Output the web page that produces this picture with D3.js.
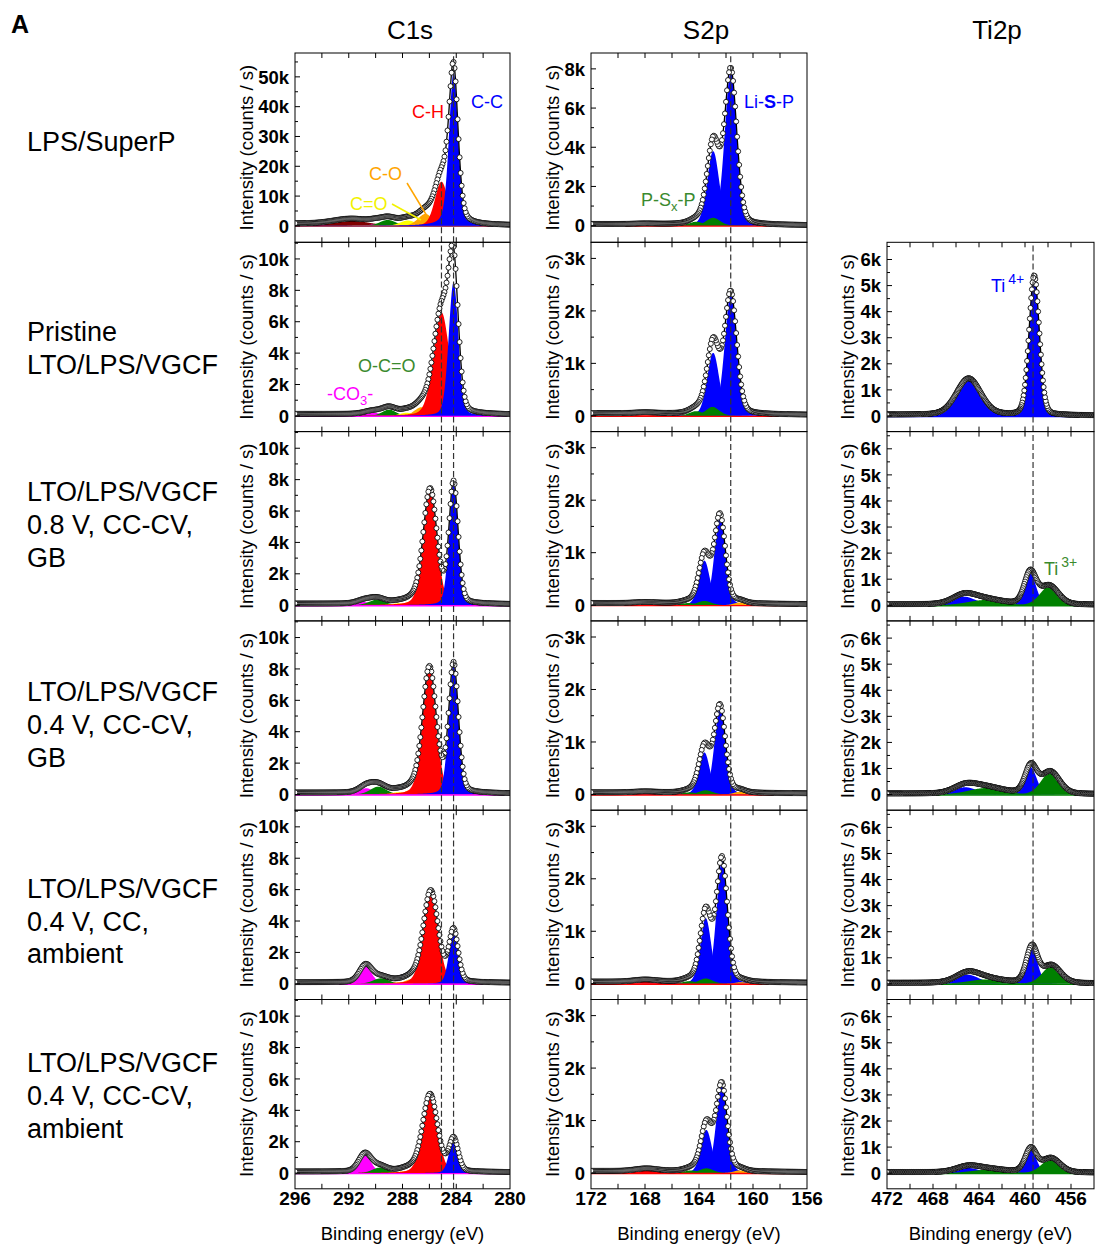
<!DOCTYPE html>
<html><head><meta charset="utf-8">
<script src="https://cdn.jsdelivr.net/npm/d3@7"></script>
<style>
body{margin:0;background:#fff}
svg{display:block}
text{font-family:"Liberation Sans",Arial,Helvetica,sans-serif}
</style>
</head><body>
<svg id="chart" width="1095" height="1245"></svg>
<script>
// ================= DATA =================
const columnTitles = ["C1s", "S2p", "Ti2p"];
const sampleLabels = [
  ["LPS/SuperP"],
  ["Pristine", "LTO/LPS/VGCF"],
  ["LTO/LPS/VGCF", "0.8 V, CC-CV,", "GB"],
  ["LTO/LPS/VGCF", "0.4 V, CC-CV,", "GB"],
  ["LTO/LPS/VGCF", "0.4 V, CC,", "ambient"],
  ["LTO/LPS/VGCF", "0.4 V, CC-CV,", "ambient"]
];
// binding energy axes (eV), high -> low
const c1sRange = [296, 280];
const s2pRange = [172, 156];
const ti2pRange = [472, 454];
const c1sTicks = [296, 292, 288, 284, 280];
const s2pTicks = [172, 168, 164, 160, 156];
const ti2pTicks = [472, 468, 464, 460, 456];
// y ticks (k counts / s)
const c1sYTicksTop = [0, 10, 20, 30, 40, 50];
const c1sYTicks = [0, 2, 4, 6, 8, 10];
const s2pYTicksTop = [0, 2, 4, 6, 8];
const s2pYTicks = [0, 1, 2, 3];
const ti2pYTicks = [0, 1, 2, 3, 4, 5, 6];

// fitted components per row: [species, centre eV, height (k counts/s), FWHM eV, Lorentz fraction]
const c1sPeaks = [
  [["pi", 291.8, 1.7, 3.2], ["CO3", 290.1, 0.5, 1.0], ["O-C=O", 289.1, 2.0, 1.4], ["C=O", 287.6, 1.8, 1.4], ["C-O", 286.3, 4.0, 1.3], ["C-H", 285.1, 14.8, 1.15], ["C-C", 284.2, 51.5, 0.8, 0.35]],
  [["CO3", 290.2, 0.2, 1.5], ["O-C=O", 289.0, 0.4, 1.2], ["C=O", 287.7, 0.2, 1.2], ["C-O", 286.6, 0.55, 1.2], ["C-H", 285.1, 6.6, 1.4], ["C-C", 284.2, 8.5, 0.85]],
  [["CO3", 290.9, 0.2, 1.3], ["O-C=O", 289.9, 0.35, 1.4], ["C=O", 288.3, 0.12, 1.2], ["C-O", 287.3, 0.25, 1.2], ["C-H", 285.95, 7.3, 1.2], ["C-C", 284.2, 7.7, 0.8]],
  [["CO3", 290.7, 0.4, 1.3], ["O-C=O", 289.8, 0.5, 1.4], ["C=O", 288.3, 0.15, 1.2], ["C-O", 287.3, 0.3, 1.2], ["C-H", 286.0, 8.0, 1.2], ["C-C", 284.2, 8.2, 0.85]],
  [["CO3", 290.75, 1.1, 1.1], ["O-C=O", 289.6, 0.35, 1.4], ["C=O", 288.2, 0.1, 1.2], ["C-O", 287.3, 0.3, 1.2], ["C-H", 285.9, 5.85, 1.3], ["C-C", 284.2, 3.3, 0.8]],
  [["CO3", 290.8, 1.15, 1.1], ["O-C=O", 289.7, 0.35, 1.3], ["C=O", 288.0, 0.1, 1.2], ["C-O", 287.3, 0.2, 1.2], ["C-H", 285.95, 4.95, 1.3], ["C-C", 284.2, 2.1, 0.8]]
];
const s2pPeaks = [
  [["Li-S-P", 161.65, 7.85, 1.05], ["Li-S-P", 162.95, 3.8, 1.05], ["P-Sx-P", 162.95, 0.4, 1.2], ["P-Sx-P", 164.2, 0.2, 1.2], ["SOx", 168.0, 0.03, 2.0]],
  [["Li-S-P", 161.65, 2.3, 1.05], ["Li-S-P", 162.95, 1.2, 1.05], ["P-Sx-P", 163.0, 0.17, 1.2], ["P-Sx-P", 164.2, 0.09, 1.2], ["SOx", 168.0, 0.02, 2.0]],
  [["Li-S-P", 162.45, 1.68, 0.95], ["Li-S-P", 163.6, 0.85, 0.95], ["P-Sx-P", 163.6, 0.08, 1.2], ["P-Sx-P", 164.8, 0.04, 1.2], ["Li2S", 161.0, 0.05, 1.0], ["SOx", 168.0, 0.02, 2.0]],
  [["Li-S-P", 162.45, 1.65, 0.95], ["Li-S-P", 163.6, 0.8, 0.95], ["P-Sx-P", 163.5, 0.08, 1.2], ["P-Sx-P", 164.7, 0.04, 1.2], ["Li2S", 161.0, 0.05, 1.0], ["SOx", 168.0, 0.02, 2.0]],
  [["Li-S-P", 162.3, 2.35, 0.95], ["Li-S-P", 163.5, 1.25, 0.95], ["P-Sx-P", 163.5, 0.1, 1.2], ["P-Sx-P", 164.7, 0.05, 1.2], ["Li2S", 160.9, 0.03, 1.0], ["SOx", 168.0, 0.04, 2.0]],
  [["Li-S-P", 162.32, 1.66, 0.95], ["Li-S-P", 163.45, 0.82, 0.95], ["P-Sx-P", 163.45, 0.09, 1.2], ["P-Sx-P", 164.6, 0.05, 1.2], ["Li2S", 161.0, 0.05, 1.0], ["SOx", 167.9, 0.05, 2.0]]
];
const ti2pPeaks = [
  null,
  [["Ti4+", 459.2, 5.35, 1.05, 0.15], ["Ti4+", 464.9, 1.4, 2.5]],
  [["Ti4+", 459.55, 1.22, 1.2], ["Ti4+", 465.3, 0.33, 2.4], ["Ti3+", 457.9, 0.72, 1.9], ["Ti3+", 463.5, 0.2, 3.5]],
  [["Ti4+", 459.5, 1.05, 1.2], ["Ti4+", 465.2, 0.28, 2.4], ["Ti3+", 457.8, 0.85, 1.9], ["Ti3+", 463.4, 0.25, 3.5]],
  [["Ti4+", 459.4, 1.38, 1.15], ["Ti4+", 465.0, 0.35, 2.4], ["Ti3+", 457.7, 0.68, 1.9], ["Ti3+", 463.4, 0.17, 3.5]],
  [["Ti4+", 459.5, 0.9, 1.15], ["Ti4+", 465.0, 0.2, 2.4], ["Ti3+", 457.75, 0.55, 1.9], ["Ti3+", 463.2, 0.13, 3.5]]
];
// background level under the envelope: [at high-BE end, at low-BE end] (k counts/s)
const c1sBg = [[0.8, 0.2], [0.12, 0.08], [0.1, 0.06], [0.12, 0.06], [0.1, 0.06], [0.1, 0.06]];
const s2pBg = [[0.08, 0.02], [0.05, 0.02], [0.04, 0.02], [0.04, 0.02], [0.04, 0.02], [0.04, 0.02]];
const ti2pBg = [null, [0.05, 0.02], [0.04, 0.02], [0.04, 0.02], [0.04, 0.02], [0.04, 0.02]];
// reference (dashed) energies; optional upper limit (k)
const c1sRefs = [[[285.1, 15], [284.2]], [[285.1], [284.2]], [[285.1], [284.2]], [[285.1], [284.2]], [[285.1], [284.2]], [[285.1], [284.2]]];
const s2pRefs = [161.65];
const ti2pRefs = [459.3];

// ================= STYLE / LAYOUT =================
const speciesColor = {
  "pi": "#800000", "CO3": "#ff00ff", "O-C=O": "#008000", "C=O": "#ffff00", "C-O": "#ffa500", "C-H": "#ff0000", "C-C": "#0000ff",
  "Li-S-P": "#0000ff", "P-Sx-P": "#008000", "Li2S": "#ffa500", "SOx": "#ff0000",
  "Ti4+": "#0000ff", "Ti3+": "#008000"
};
const rowTop0 = 53, rowH = 189.3;
const rowTop = i => rowTop0 + i * rowH;
const svg = d3.select("#chart");
const LN = 4 * Math.LN2;
function pv(x, p) {
  const c = p[1], h = p[2], w = p[3], eta = p[4] === undefined ? 0.2 : p[4];
  const d = (x - c) / w;
  return h * ((1 - eta) * Math.exp(-LN * d * d) + eta / (1 + 4 * d * d));
}

const columns = [
  { key: "C1s", x0: 295, x1: 510, range: c1sRange, xticks: c1sTicks, peaks: c1sPeaks, bg: c1sBg, yTitleX: 247, titleX: 410, step: 0.075,
    yDom: r => r === 0 ? [-5.5, 58] : [-1.0, 11.06],
    yTicks: r => r === 0 ? c1sYTicksTop : c1sYTicks, yMinor: r => r === 0 ? 5 : 1,
    refs: r => c1sRefs[r], baseColor: r => r === 0 ? "#a04060" : "#ff00ff" },
  { key: "S2p", x0: 591, x1: 807, range: s2pRange, xticks: s2pTicks, peaks: s2pPeaks, bg: s2pBg, yTitleX: 553, titleX: 706, step: 0.075,
    yDom: r => r === 0 ? [-0.85, 8.81] : [-0.3, 3.307],
    yTicks: r => r === 0 ? s2pYTicksTop : s2pYTicks, yMinor: r => r === 0 ? 1 : 0.5,
    refs: r => s2pRefs.map(e => [e]), baseColor: r => "#ff0000" },
  { key: "Ti2p", x0: 887, x1: 1094, range: ti2pRange, xticks: ti2pTicks, peaks: ti2pPeaks, bg: ti2pBg, yTitleX: 848, titleX: 997, step: 0.06,
    yDom: r => [-0.6, 6.66],
    yTicks: r => ti2pYTicks, yMinor: r => 0.5,
    refs: r => ti2pRefs.map(e => [e]), baseColor: r => r === 1 ? "#0000ff" : "#008000" }
];

// ---- titles ----
svg.append("text").attr("x", 11).attr("y", 33).attr("font-size", 25).attr("font-weight", "bold").text("A");
columns.forEach((c, i) => {
  svg.append("text").attr("x", c.titleX).attr("y", 39).attr("text-anchor", "middle")
    .attr("font-size", 26).text(columnTitles[i]);
});
const labelY = [[151], [341, 374], [501, 534, 567], [701, 734, 767], [898, 931, 963], [1072, 1105, 1138]];
sampleLabels.forEach((lines, r) => {
  lines.forEach((t, k) => {
    svg.append("text").attr("x", 27).attr("y", labelY[r][k]).attr("font-size", 27).text(t);
  });
});

const defs = svg.append("defs");
let clipId = 0;

function drawPanel(c, r) {
  const peaks = c.peaks[r];
  if (!peaks) return;
  const top = rowTop(r), bottom = top + rowH;
  const x = d3.scaleLinear().domain(c.range).range([c.x0, c.x1]);
  const y = d3.scaleLinear().domain(c.yDom(r)).range([bottom, top]);
  const g = svg.append("g");
  const id = "clip" + (clipId++);
  defs.append("clipPath").attr("id", id).append("rect")
    .attr("x", c.x0).attr("y", top).attr("width", c.x1 - c.x0).attr("height", rowH);
  const pg = g.append("g").attr("clip-path", `url(#${id})`);

  const lo = Math.min(...c.range), hi = Math.max(...c.range);
  const xsFine = d3.range(lo, hi + 1e-9, 0.025);
  const bgv = c.bg[r];
  const bgAt = e => bgv[0] + (bgv[1] - bgv[0]) * (c.range[0] - e) / (c.range[0] - c.range[1]);

  // component fills (drawn back to front in array order)
  const area = d3.area().x(d => x(d[0])).y0(y(0)).y1(d => y(d[1]));
  peaks.forEach(p => {
    const pts = xsFine.map(e => [e, pv(e, p)]);
    pg.append("path").attr("d", area(pts)).attr("fill", speciesColor[p[0]]).attr("stroke", "none");
  });
  // baseline
  pg.append("line").attr("x1", c.x0).attr("x2", c.x1).attr("y1", y(0) + 0.5).attr("y2", y(0) + 0.5)
    .attr("stroke", c.baseColor(r)).attr("stroke-width", 1.4);

  // envelope
  const env = e => bgAt(e) + d3.sum(peaks, p => pv(e, p));
  const line = d3.line().x(d => x(d[0])).y(d => y(d[1]));
  pg.append("path").attr("d", line(xsFine.map(e => [e, env(e)]))).attr("fill", "none")
    .attr("stroke", "#000").attr("stroke-width", 1.3);

  // data points
  const xsData = d3.range(lo, hi + 1e-9, c.step);
  pg.append("g").selectAll("circle").data(xsData).join("circle")
    .attr("cx", e => x(e)).attr("cy", e => y(env(e))).attr("r", 2.5)
    .attr("fill", "#fff").attr("stroke", "#000").attr("stroke-width", 0.85);

  // reference dashed lines
  c.refs(r).forEach(ref => {
    const yTop = ref[1] === undefined ? top : y(ref[1]);
    pg.append("line").attr("x1", x(ref[0])).attr("x2", x(ref[0])).attr("y1", bottom).attr("y2", yTop)
      .attr("stroke", "#333").attr("stroke-width", 1.2).attr("stroke-dasharray", "6,3");
  });

  // frame
  g.append("rect").attr("x", c.x0).attr("y", top).attr("width", c.x1 - c.x0).attr("height", rowH)
    .attr("fill", "none").attr("stroke", "#000").attr("stroke-width", 1);

  // x ticks (inward, top & bottom) every 2 eV
  d3.range(lo, hi + 1e-9, 2).forEach(e => {
    const xx = x(e);
    if (xx <= c.x0 + 0.5 || xx >= c.x1 - 0.5) return;
    g.append("line").attr("x1", xx).attr("x2", xx).attr("y1", bottom).attr("y2", bottom - 5).attr("stroke", "#000");
    g.append("line").attr("x1", xx).attr("x2", xx).attr("y1", top).attr("y2", top + 5).attr("stroke", "#000");
  });

  // y ticks
  const yd = c.yDom(r), step = c.yMinor(r);
  d3.range(0, yd[1] + 1e-9, step).forEach(v => {
    const major = c.yTicks(r).some(t => Math.abs(t - v) < 1e-9);
    g.append("line").attr("x1", c.x0).attr("x2", c.x0 + (major ? 5 : 3)).attr("y1", y(v)).attr("y2", y(v)).attr("stroke", "#000");
  });
  c.yTicks(r).forEach(v => {
    g.append("text").attr("x", c.x0 - 6).attr("y", y(v)).attr("dy", "0.36em").attr("text-anchor", "end")
      .attr("font-size", 18.5).attr("font-weight", "bold").text(v === 0 ? "0" : v + "k");
  });
  // y title
  const cy = (top + bottom) / 2;
  g.append("text").attr("transform", `translate(${c.yTitleX},${cy}) rotate(-90)`).attr("dy", "0.35em")
    .attr("text-anchor", "middle").attr("font-size", 18.5).text("Intensity (counts / s)");

  // bottom axis labels
  if (r === 5) {
    c.xticks.forEach(e => {
      g.append("text").attr("x", x(e)).attr("y", 1205).attr("text-anchor", "middle")
        .attr("font-size", 19).attr("font-weight", "bold").text(e);
    });
    g.append("text").attr("x", (c.x0 + c.x1) / 2).attr("y", 1240).attr("text-anchor", "middle")
      .attr("font-size", 18.5).text("Binding energy (eV)");
  }
}

for (let r = 0; r < 6; r++) columns.forEach(c => drawPanel(c, r));

// ---- annotations ----
const ann = svg.append("g").attr("font-size", 18);
function label(x, yb, color, parts) {
  const t = ann.append("text").attr("x", x).attr("y", yb).attr("fill", color);
  parts.forEach(p => {
    const s = t.append("tspan").text(p.t);
    if (p.b) s.attr("font-weight", "bold");
    if (p.sub) s.attr("font-size", 13).attr("dy", 5);
    if (p.sup) s.attr("font-size", 14).attr("dy", -8).attr("dx", 3);
    if (p.reset) s.attr("dy", p.reset);
  });
}
label(471, 108, "#0000ff", [{ t: "C-C" }]);
label(412, 118, "#ff0000", [{ t: "C-H" }]);
label(369, 180, "#ffa500", [{ t: "C-O" }]);
label(350, 210, "#f2f200", [{ t: "C=O" }]);
ann.append("line").attr("x1", 407).attr("y1", 183).attr("x2", 427).attr("y2", 216).attr("stroke", "#ffa500").attr("stroke-width", 1.5);
ann.append("line").attr("x1", 392).attr("y1", 204).attr("x2", 421).attr("y2", 220).attr("stroke", "#f2f200").attr("stroke-width", 1.5);
label(358, 372, "#3a8a2e", [{ t: "O-C=O" }]);
label(327, 400, "#ff00ff", [{ t: "-CO" }, { t: "3", sub: true }, { t: "-", reset: -5 }]);
label(744, 108, "#0000ff", [{ t: "Li-" }, { t: "S", b: true }, { t: "-P" }]);
label(641, 206, "#3a8a2e", [{ t: "P-S" }, { t: "x", sub: true }, { t: "-P", reset: -5 }]);
label(991, 292, "#0000ff", [{ t: "Ti" }, { t: "4+", sup: true }]);
label(1044, 575, "#3a8a2e", [{ t: "Ti" }, { t: "3+", sup: true }]);
</script>
</body></html>
